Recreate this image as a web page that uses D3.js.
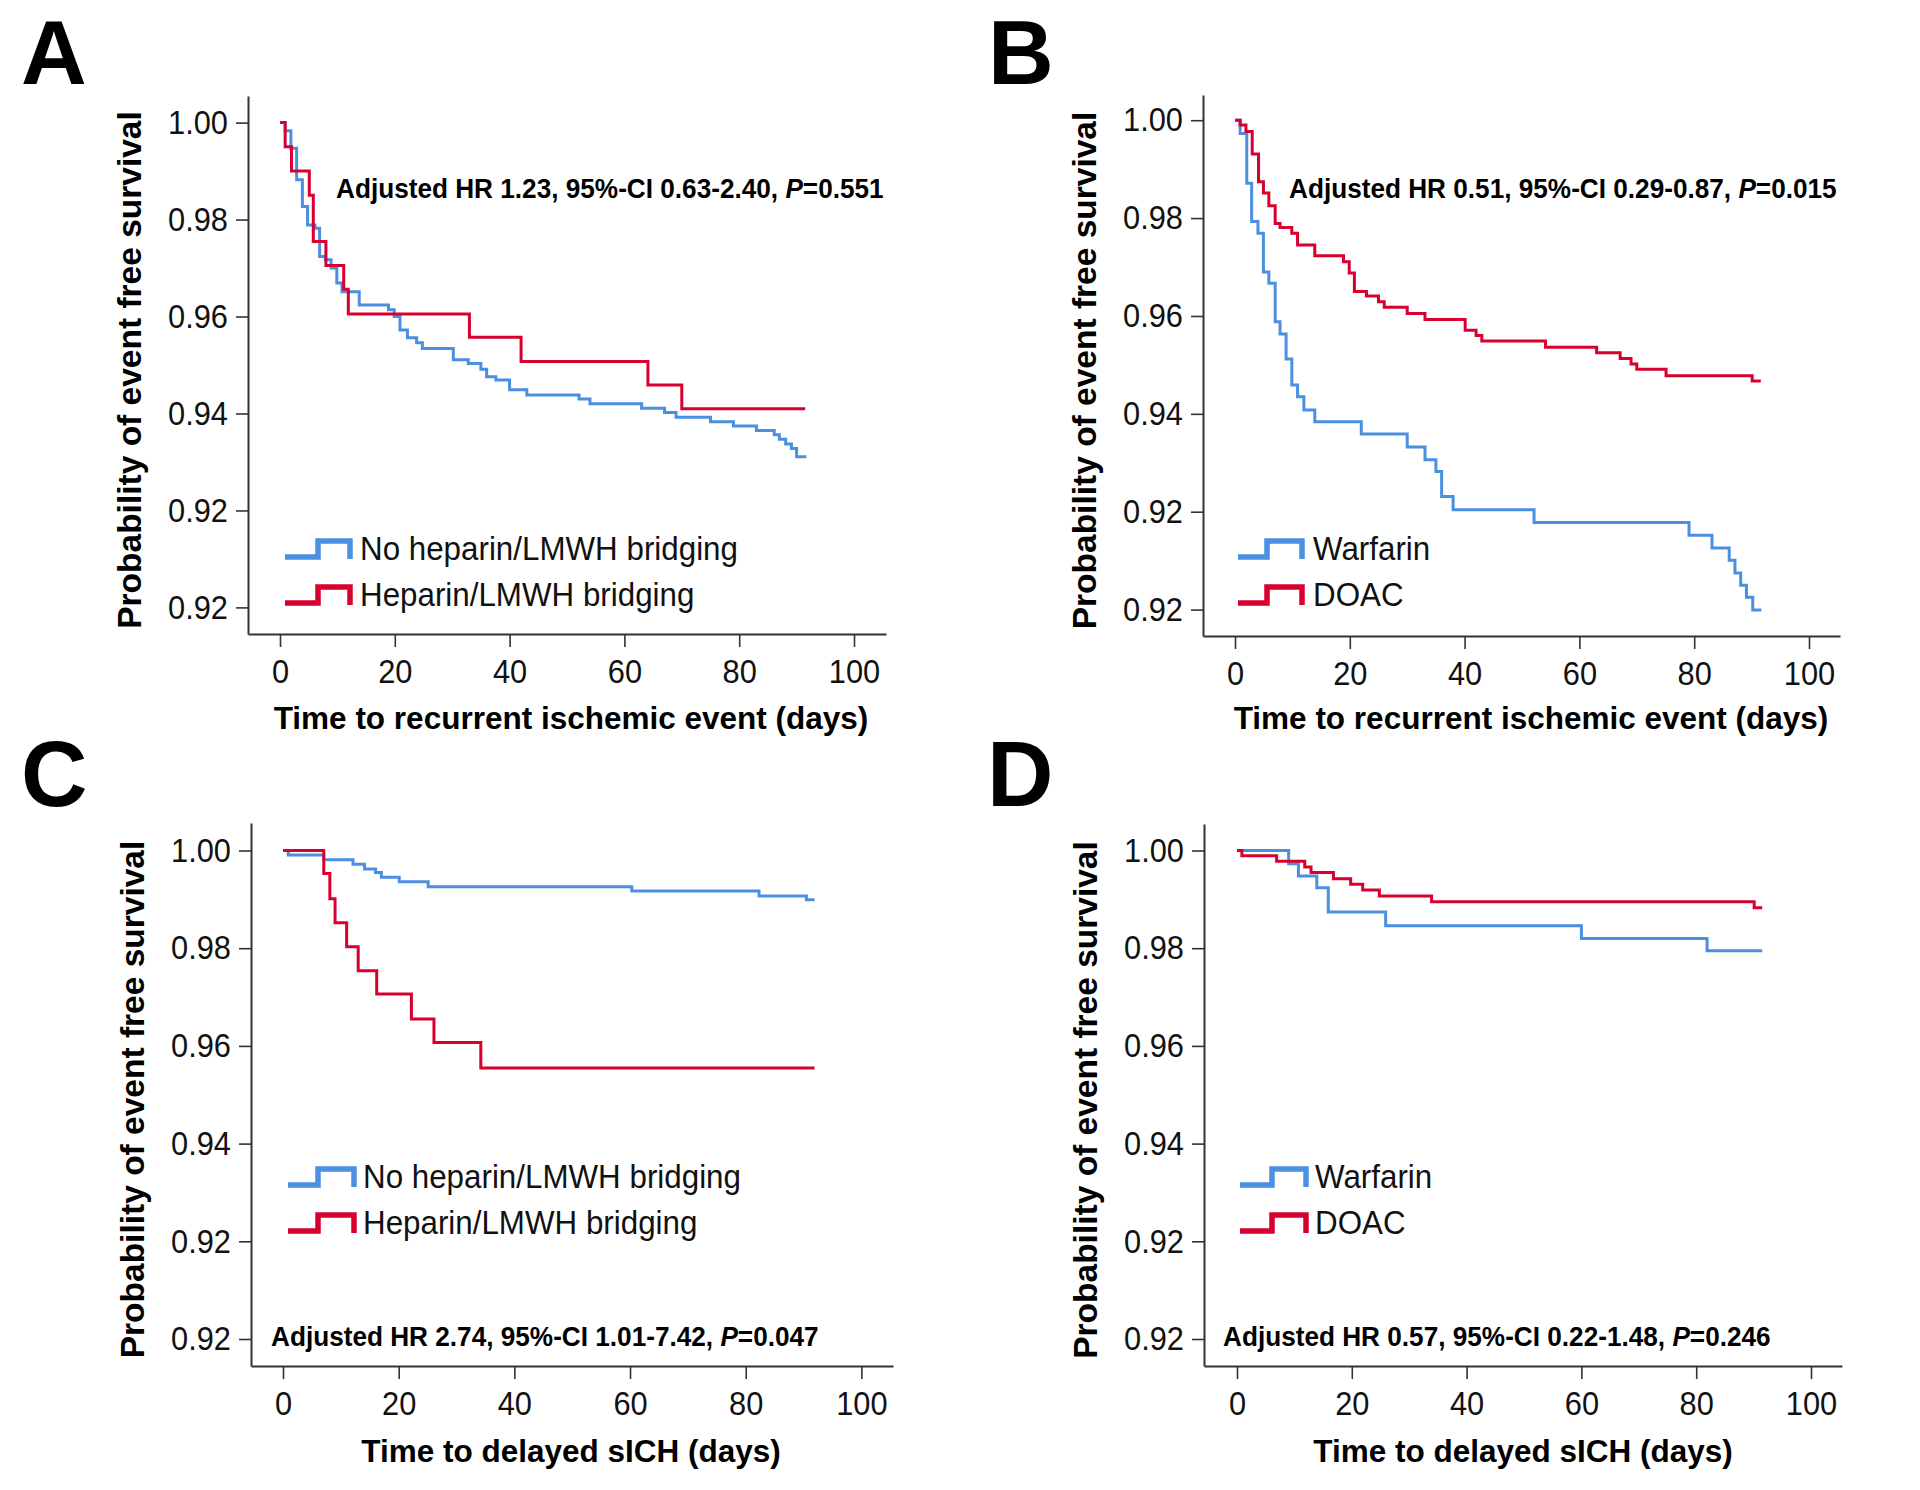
<!DOCTYPE html>
<html>
<head>
<meta charset="utf-8">
<script src="https://cdn.jsdelivr.net/npm/d3@7"></script>
<style>
  body { margin: 0; background: #fff; }
  svg { display: block; font-family: "Liberation Sans", Arial, Helvetica, sans-serif; }
</style>
</head>
<body>
<div id="container"></div>
<script>
const xTicks = [0, 20, 40, 60, 80, 100];
const yTicks = [1.00, 0.98, 0.96, 0.94, 0.92, 0.90];
const yTickLabels = ["1.00", "0.98", "0.96", "0.94", "0.92", "0.92"];

// [day, survival] at each step, last pair = end of follow-up
const aNoBridging = [[0,1],[0.9,0.9983],[1.9,0.9947],[2.9,0.9882],[3.9,0.9827],[4.8,0.9789],[6.1,0.9782],[6.9,0.9724],[7.9,0.9717],[8.9,0.970],[9.9,0.9669],[10.8,0.9651],[13.8,0.9624],[18.9,0.9614],[19.9,0.960],[20.9,0.9572],[22.2,0.9556],[23.8,0.9546],[24.8,0.9534],[30.2,0.9511],[32.8,0.9503],[35.0,0.9491],[36.0,0.9476],[37.6,0.9469],[40.0,0.9449],[43.0,0.9438],[52.1,0.943],[54.0,0.942],[63.0,0.9411],[67.0,0.9402],[69.0,0.9392],[75.0,0.9383],[79.0,0.9374],[83.0,0.9365],[86.1,0.9356],[87.0,0.9347],[88.1,0.9337],[89.1,0.9328],[90.0,0.9311],[91.7,0.9311]];
const aBridging = [[0,1],[0.9,0.995],[2.0,0.990],[5.1,0.985],[5.8,0.9755],[8.0,0.9705],[11.1,0.9656],[11.9,0.9605],[33.0,0.9557],[42.0,0.9507],[64.1,0.9459],[70.0,0.941],[91.5,0.941]];
const bWarfarin = [[0,1],[0.9,0.9973],[2.05,0.9871],[2.9,0.9793],[4.0,0.9769],[4.95,0.969],[5.9,0.9667],[7.0,0.9588],[7.85,0.9563],[8.9,0.9512],[9.9,0.9459],[10.9,0.9435],[12.0,0.9408],[13.9,0.9384],[22.0,0.9359],[30.0,0.9332],[33.1,0.9306],[35.0,0.9282],[36.0,0.9231],[38.0,0.9204],[52.1,0.9178],[79.1,0.9152],[83.1,0.9126],[86.1,0.9101],[87.1,0.9075],[88.1,0.905],[89.1,0.9025],[90.2,0.8999],[91.7,0.8999]];
const bDoac = [[0,1],[0.9,0.999],[1.9,0.9977],[3.0,0.9931],[4.1,0.9874],[4.95,0.9851],[5.9,0.9825],[7.0,0.9789],[7.85,0.9781],[9.9,0.9769],[10.9,0.9745],[13.9,0.9723],[18.9,0.9711],[19.9,0.9688],[20.8,0.965],[22.9,0.9641],[25.0,0.9629],[26.0,0.9618],[30.0,0.9605],[33.1,0.9593],[40.1,0.9571],[42.0,0.956],[43.0,0.9549],[54.1,0.9536],[63.0,0.9525],[67.1,0.9513],[69.0,0.9502],[70.0,0.9491],[75.1,0.9478],[90.1,0.9467],[91.6,0.9467]];
const cNoBridging = [[0,1],[0.9,0.9991],[7.05,0.9981],[12.1,0.9972],[14.1,0.9962],[16.0,0.9955],[17.0,0.9945],[20.1,0.9936],[25.1,0.9926],[60.3,0.9917],[82.3,0.9907],[90.5,0.9899],[91.9,0.9899]];
const cBridging = [[0,1],[7.05,0.9953],[8.1,0.9901],[9.0,0.9852],[11.0,0.9803],[13.0,0.9754],[16.2,0.9706],[22.2,0.9655],[26.1,0.9607],[34.2,0.9555],[91.9,0.9555]];
const dWarfarin = [[0,1],[9.0,0.9973],[10.7,0.9948],[13.9,0.9924],[15.9,0.9874],[25.9,0.9846],[60.0,0.982],[81.9,0.9795],[91.5,0.9795]];
const dDoac = [[0,1],[0.85,0.9989],[6.9,0.9978],[11.8,0.9966],[12.9,0.9955],[16.8,0.9942],[19.8,0.9931],[21.9,0.9919],[24.8,0.9907],[33.9,0.9895],[90.1,0.9883],[91.5,0.9883]];

const bridgingNames = ["No heparin/LMWH bridging", "Heparin/LMWH bridging"];
const drugNames = ["Warfarin", "DOAC"];
const colors = ["#4a8fe0", "#d7002f"];

const panels = [
  {letter: "A", xTitle: "Time to recurrent ischemic event (days)", hr: "1.23", ci: "0.63-2.40", p: "0.551", names: bridgingNames, series: [aNoBridging, aBridging]},
  {letter: "B", xTitle: "Time to recurrent ischemic event (days)", hr: "0.51", ci: "0.29-0.87", p: "0.015", names: drugNames, series: [bWarfarin, bDoac]},
  {letter: "C", xTitle: "Time to delayed sICH (days)", hr: "2.74", ci: "1.01-7.42", p: "0.047", names: bridgingNames, series: [cNoBridging, cBridging]},
  {letter: "D", xTitle: "Time to delayed sICH (days)", hr: "0.57", ci: "0.22-1.48", p: "0.246", names: drugNames, series: [dWarfarin, dDoac]}
];

// pixel layout for each panel
const layout = {
  A: {x0: 248, top: 96, bottom: 634, right: 886, xZero: 280, xHundred: 854, yTop: 122.6, yBot: 607.4,
      noteX: 336, noteY: 198, legX: 285, legStep: 318, legRight: 350, legText: 360, legY: [560, 606],
      letterX: 21, letterY: 84, letterSize: 91, titleX: 571, titleY: 729},
  B: {x0: 1203, top: 95, bottom: 636, right: 1840, xZero: 1235, xHundred: 1809, yTop: 120.2, yBot: 609.6,
      noteX: 1289, noteY: 198, legX: 1238, legStep: 1267, legRight: 1302, legText: 1313, legY: [560, 606],
      letterX: 988, letterY: 84, letterSize: 91, titleX: 1531, titleY: 729},
  C: {x0: 251, top: 823, bottom: 1366, right: 893, xZero: 283, xHundred: 861.4, yTop: 850.5, yBot: 1339,
      noteX: 271, noteY: 1346, legX: 288, legStep: 318, legRight: 354, legText: 363, legY: [1188, 1234],
      letterX: 21, letterY: 806, letterSize: 92, titleX: 571, titleY: 1462},
  D: {x0: 1204, top: 824, bottom: 1366, right: 1842, xZero: 1237, xHundred: 1811, yTop: 850.5, yBot: 1339,
      noteX: 1223, noteY: 1346, legX: 1240, legStep: 1272, legRight: 1306, legText: 1315, legY: [1188, 1234],
      letterX: 987, letterY: 806, letterSize: 92, titleX: 1523, titleY: 1462}
};

// the original typeface is narrower than Arial
const tickSX = 0.92;
const legSX = 0.95;
const noteSX = 0.935;

const svg = d3.select("#container").append("svg")
  .attr("width", 1920)
  .attr("height", 1490);

const drawPanel = (panel) => {
  const L = layout[panel.letter];
  const g = svg.append("g");

  // X scale: 0..100 lands on the tick positions, axis line spans x0..right
  const pu = (L.xHundred - L.xZero) / 100;
  const x = d3.scaleLinear()
    .domain([-(L.xZero - L.x0) / pu, 100 + (L.right - L.xHundred) / pu])
    .range([L.x0, L.right]);

  const yu = (L.yBot - L.yTop) / (yTicks[0] - yTicks[yTicks.length - 1]);
  const y = d3.scaleLinear()
    .domain([yTicks[yTicks.length - 1] - (L.bottom - L.yBot) / yu, yTicks[0] + (L.yTop - L.top) / yu])
    .range([L.bottom, L.top]);

  // X axis
  const xa = g.append("g")
    .attr("transform", "translate(0," + L.bottom + ")")
    .call(d3.axisBottom(x).tickValues(xTicks).tickSize(13).tickSizeOuter(0).tickPadding(12));
  xa.selectAll("text")
    .style("font-size", "33.5px")
    .attr("fill", "#111")
    .attr("transform", `scale(${tickSX},1)`);

  // Y axis
  const ya = g.append("g")
    .attr("transform", "translate(" + L.x0 + ",0)")
    .call(d3.axisLeft(y).tickValues(yTicks).tickSize(12).tickSizeOuter(0).tickPadding(8)
      .tickFormat((d, i) => yTickLabels[i]));
  ya.selectAll("text")
    .style("font-size", "33.5px")
    .attr("fill", "#111")
    .attr("x", -20 / tickSX)
    .attr("transform", `scale(${tickSX},1)`);

  g.selectAll(".domain").attr("stroke", "#333").attr("stroke-width", 2);
  g.selectAll(".tick line").attr("stroke", "#333").attr("stroke-width", 1.6);

  // curves
  const line = d3.line()
    .x(d => x(d[0]))
    .y(d => y(d[1]))
    .curve(d3.curveStepAfter);

  panel.series.forEach((s, i) => {
    g.append("path")
      .datum(s)
      .attr("d", line)
      .attr("fill", "none")
      .attr("stroke", colors[i])
      .attr("stroke-width", 3)
      .attr("stroke-linejoin", "miter");
  });

  // legend
  panel.names.forEach((name, i) => {
    const by = L.legY[i];
    g.append("path")
      .attr("d", d3.line()([[L.legX, by - 3], [L.legStep, by - 3], [L.legStep, by - 19],
        [L.legRight, by - 19], [L.legRight, by - 1]]))
      .attr("fill", "none")
      .attr("stroke", colors[i])
      .attr("stroke-width", 5.5);
    g.append("text")
      .attr("transform", `translate(${L.legText},${by}) scale(${legSX},1)`)
      .style("font-size", "33px")
      .attr("fill", "#111")
      .text(name);
  });

  // hazard ratio note
  const note = g.append("text")
    .attr("transform", `translate(${L.noteX},${L.noteY}) scale(${noteSX},1)`)
    .style("font-size", "28px")
    .style("font-weight", "bold")
    .attr("fill", "#000");
  note.append("tspan").text(`Adjusted HR ${panel.hr}, 95%-CI ${panel.ci}, `);
  note.append("tspan").style("font-style", "italic").text("P");
  note.append("tspan").text("=" + panel.p);

  // axis titles
  g.append("text")
    .attr("x", L.titleX)
    .attr("y", L.titleY)
    .attr("text-anchor", "middle")
    .style("font-size", "31.5px")
    .style("font-weight", "bold")
    .text(panel.xTitle);

  g.append("text")
    .attr("transform", `translate(${L.x0 - 107},${(L.top + L.bottom) / 2 + 5}) rotate(-90)`)
    .attr("text-anchor", "middle")
    .style("font-size", "33.5px")
    .style("font-weight", "bold")
    .text("Probability of event free survival");

  // panel letter
  g.append("text")
    .attr("x", L.letterX)
    .attr("y", L.letterY)
    .style("font-size", L.letterSize + "px")
    .style("font-weight", "bold")
    .text(panel.letter);
}

panels.forEach(drawPanel);
</script>
</body>
</html>
